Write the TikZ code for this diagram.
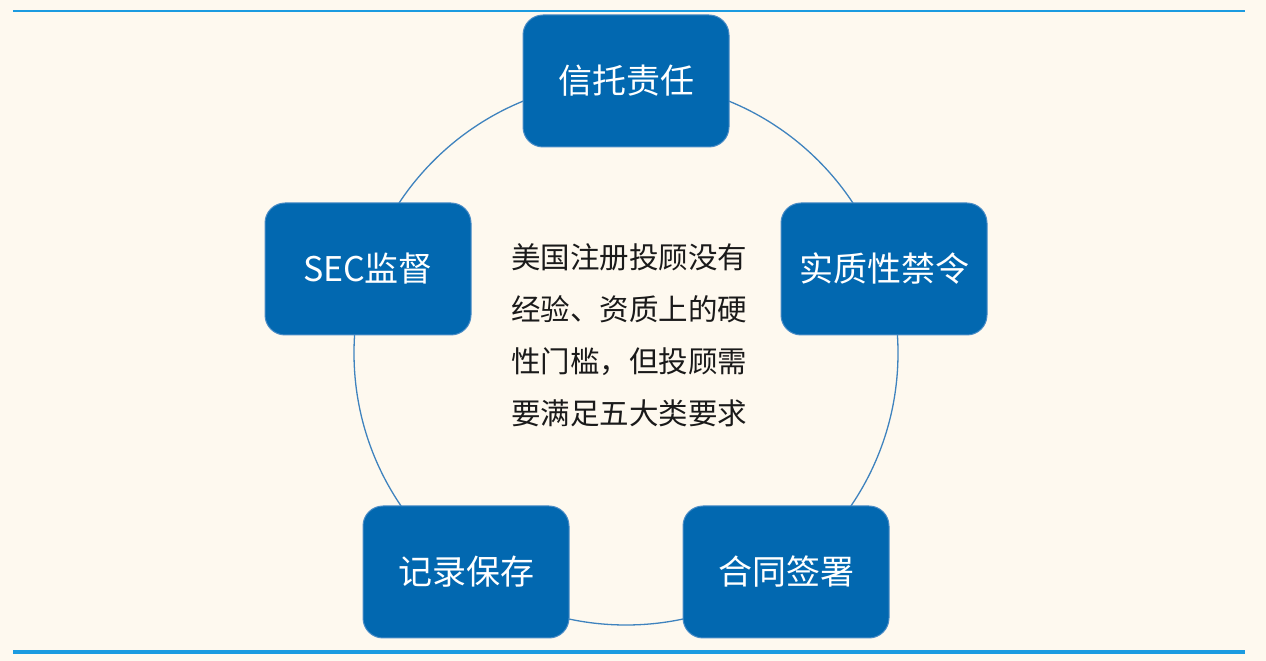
\documentclass[tikz,border=0pt]{standalone}
\usepackage{fontspec}
\setmainfont{Noto Sans CJK SC}
\definecolor{bgc}{HTML}{FEF9EF}
\definecolor{rule}{HTML}{1C9BE0}
\definecolor{boxc}{HTML}{0268B0}
\definecolor{boxedge}{HTML}{4A8CC6}
\definecolor{ringc}{HTML}{3F83BE}
\definecolor{txt}{HTML}{1A1A1A}
\begin{document}
\begin{tikzpicture}[x=1pt,y=1pt,
  topic/.style={draw=boxedge, line width=1pt, fill=boxc, rounded corners=20pt,
    minimum width=206pt, minimum height=132pt, inner sep=0pt, text=white,
    font=\fontsize{34}{40}\selectfont},
  ring/.style={draw=ringc, line width=1.3pt},
  hrule/.style={draw=rule}]
\fill[bgc] (0,0) rectangle (1266,661);
\useasboundingbox (0,0) rectangle (1266,661);
\coordinate (L1) at (13,650);
\coordinate (R1) at (1245,650);
\coordinate (L2) at (13,9);
\coordinate (R2) at (1245,9);
\draw[hrule, line width=2.2pt] (L1) -- (R1);
\draw[hrule, line width=3.5pt] (L2) -- (R2);
\coordinate (C) at (626,308);
\draw[ring] (C) circle (272);
\node[topic] (n1) at (626,580) {信托责任};
\node[topic] (n2) at (884,392) {实质性禁令};
\node[topic] (n3) at (786,89) {合同签署};
\node[topic] (n4) at (466,89) {记录保存};
\node[topic] (n5) at (368,392) {SEC监督};
\node[text=txt, align=left, inner sep=0pt, font=\fontsize{29.5}{52}\selectfont] (ctr) at (629,326)
  {美国注册投顾没有\\经验、资质上的硬\\性门槛，但投顾需\\要满足五大类要求};
\end{tikzpicture}
\end{document}
